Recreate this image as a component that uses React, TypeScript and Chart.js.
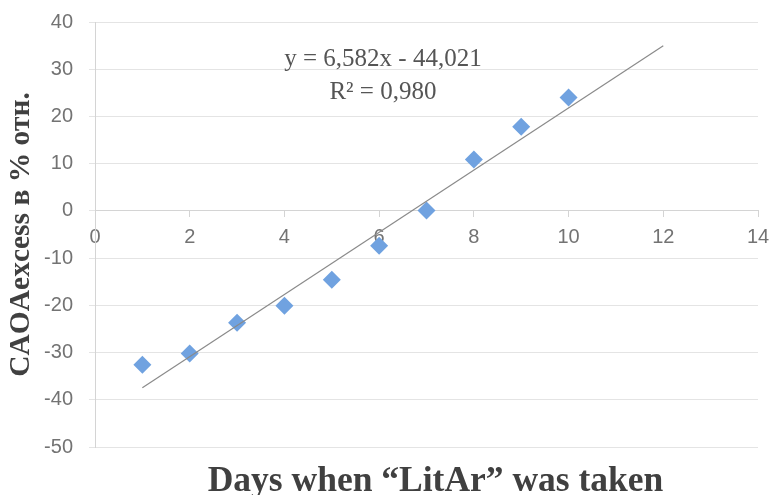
import React, { useEffect, useRef } from "react";
import { Chart, registerables } from "chart.js";

Chart.register(...registerables);

// ---- data ----
const days = [1, 2, 3, 4, 5, 6, 7, 8, 9, 10];
const caoaExcess = [-32.6, -30.2, -23.7, -20.1, -14.6, -7.4, 0.1, 10.9, 17.8, 24.0];
const trendDays = [1, 12];
const trendValues = [-37.44, 34.96];
const equationLines = ["y = 6,582x - 44,021", "R\u00B2 = 0,980"];
const yTitle = "CAOAexcess в % отн.";
const xTitle = "Days when \u201CLitAr\u201D was taken";

const SERIF = '"Liberation Serif", "Times New Roman", serif';
const SANS = '"Liberation Sans", Arial, sans-serif';

const equationPlugin = {
  id: "equationLabel",
  afterDatasetsDraw(chart: any) {
    const { ctx, scales } = chart;
    const x = scales.x.getPixelForValue(6.08);
    const y1 = scales.y.getPixelForValue(30.6);
    const y2 = scales.y.getPixelForValue(23.6);
    ctx.save();
    ctx.font = `25px ${SERIF}`;
    ctx.fillStyle = "#555555";
    ctx.textAlign = "center";
    ctx.textBaseline = "alphabetic";
    ctx.fillText(equationLines[0], x, y1);
    ctx.fillText(equationLines[1], x, y2);
    ctx.restore();
  },
};

const xTitlePlugin = {
  id: "xTitleLabel",
  afterDraw(chart: any) {
    const { ctx, scales, chartArea } = chart;
    const x = scales.x.getPixelForValue(7.19);
    const y = chartArea.bottom + 44;
    ctx.save();
    ctx.font = `bold 35.5px ${SERIF}`;
    ctx.fillStyle = "#404040";
    ctx.textAlign = "center";
    ctx.textBaseline = "alphabetic";
    ctx.fillText(xTitle, x, y);
    ctx.restore();
  },
};

export default function App() {
  const ref = useRef<HTMLCanvasElement>(null);

  useEffect(() => {
    if (!ref.current) return;
    const chart = new Chart(ref.current, {
      type: "scatter",
      data: {
        datasets: [
          {
            label: "Trend",
            data: trendDays.map((d, i) => ({ x: d, y: trendValues[i] })),
            showLine: true,
            borderColor: "#8a8a8a",
            borderWidth: 1.2,
            pointRadius: 0,
            pointHoverRadius: 0,
            fill: false,
          },
          {
            label: "CAOAexcess",
            data: days.map((d, i) => ({ x: d, y: caoaExcess[i] })),
            pointStyle: "rectRot",
            pointRadius: 9,
            pointHoverRadius: 9,
            backgroundColor: "#70A2E0",
            borderColor: "#70A2E0",
            borderWidth: 0,
          },
        ],
      },
      options: {
        animation: false,
        responsive: true,
        maintainAspectRatio: false,
        layout: { padding: { top: 22, right: 14, left: 0, bottom: 48 } },
        plugins: {
          legend: { display: false },
          tooltip: { enabled: false },
          title: { display: false },
        },
        scales: {
          x: {
            type: "linear",
            position: { y: 0 },
            min: 0,
            max: 14,
            afterFit: (scale: any) => {
              scale.paddingLeft = 0;
              scale.paddingRight = 0;
            },
            ticks: {
              stepSize: 2,
              color: "#737373",
              font: { family: SANS, size: 20 },
              padding: 9,
            },
            grid: {
              drawOnChartArea: false,
              drawTicks: true,
              tickLength: 6,
              color: "#d4d4d4",
            },
            border: { color: "#d4d4d4" },
          },
          y: {
            type: "linear",
            position: "left",
            min: -50,
            max: 40,
            afterFit: (scale: any) => {
              scale.width = 95;
              scale.paddingTop = 0;
              scale.paddingBottom = 0;
            },
            ticks: {
              stepSize: 10,
              color: "#737373",
              font: { family: SANS, size: 20 },
              padding: 16,
            },
            grid: {
              color: "#e4e4e4",
              tickLength: 6,
            },
            border: { color: "#d4d4d4" },
            title: {
              display: true,
              text: yTitle,
              color: "#404040",
              font: { family: SERIF, size: 29.5, weight: "bold", lineHeight: 1.2 },
              padding: { top: 4, bottom: 0 },
            },
          },
        },
      },
      plugins: [equationPlugin, xTitlePlugin],
    });
    return () => chart.destroy();
  }, []);

  return (
    <div style={{ position: "absolute", left: 0, top: 0, width: 772, height: 495, background: "#ffffff" }}>
      <canvas ref={ref} />
    </div>
  );
}
